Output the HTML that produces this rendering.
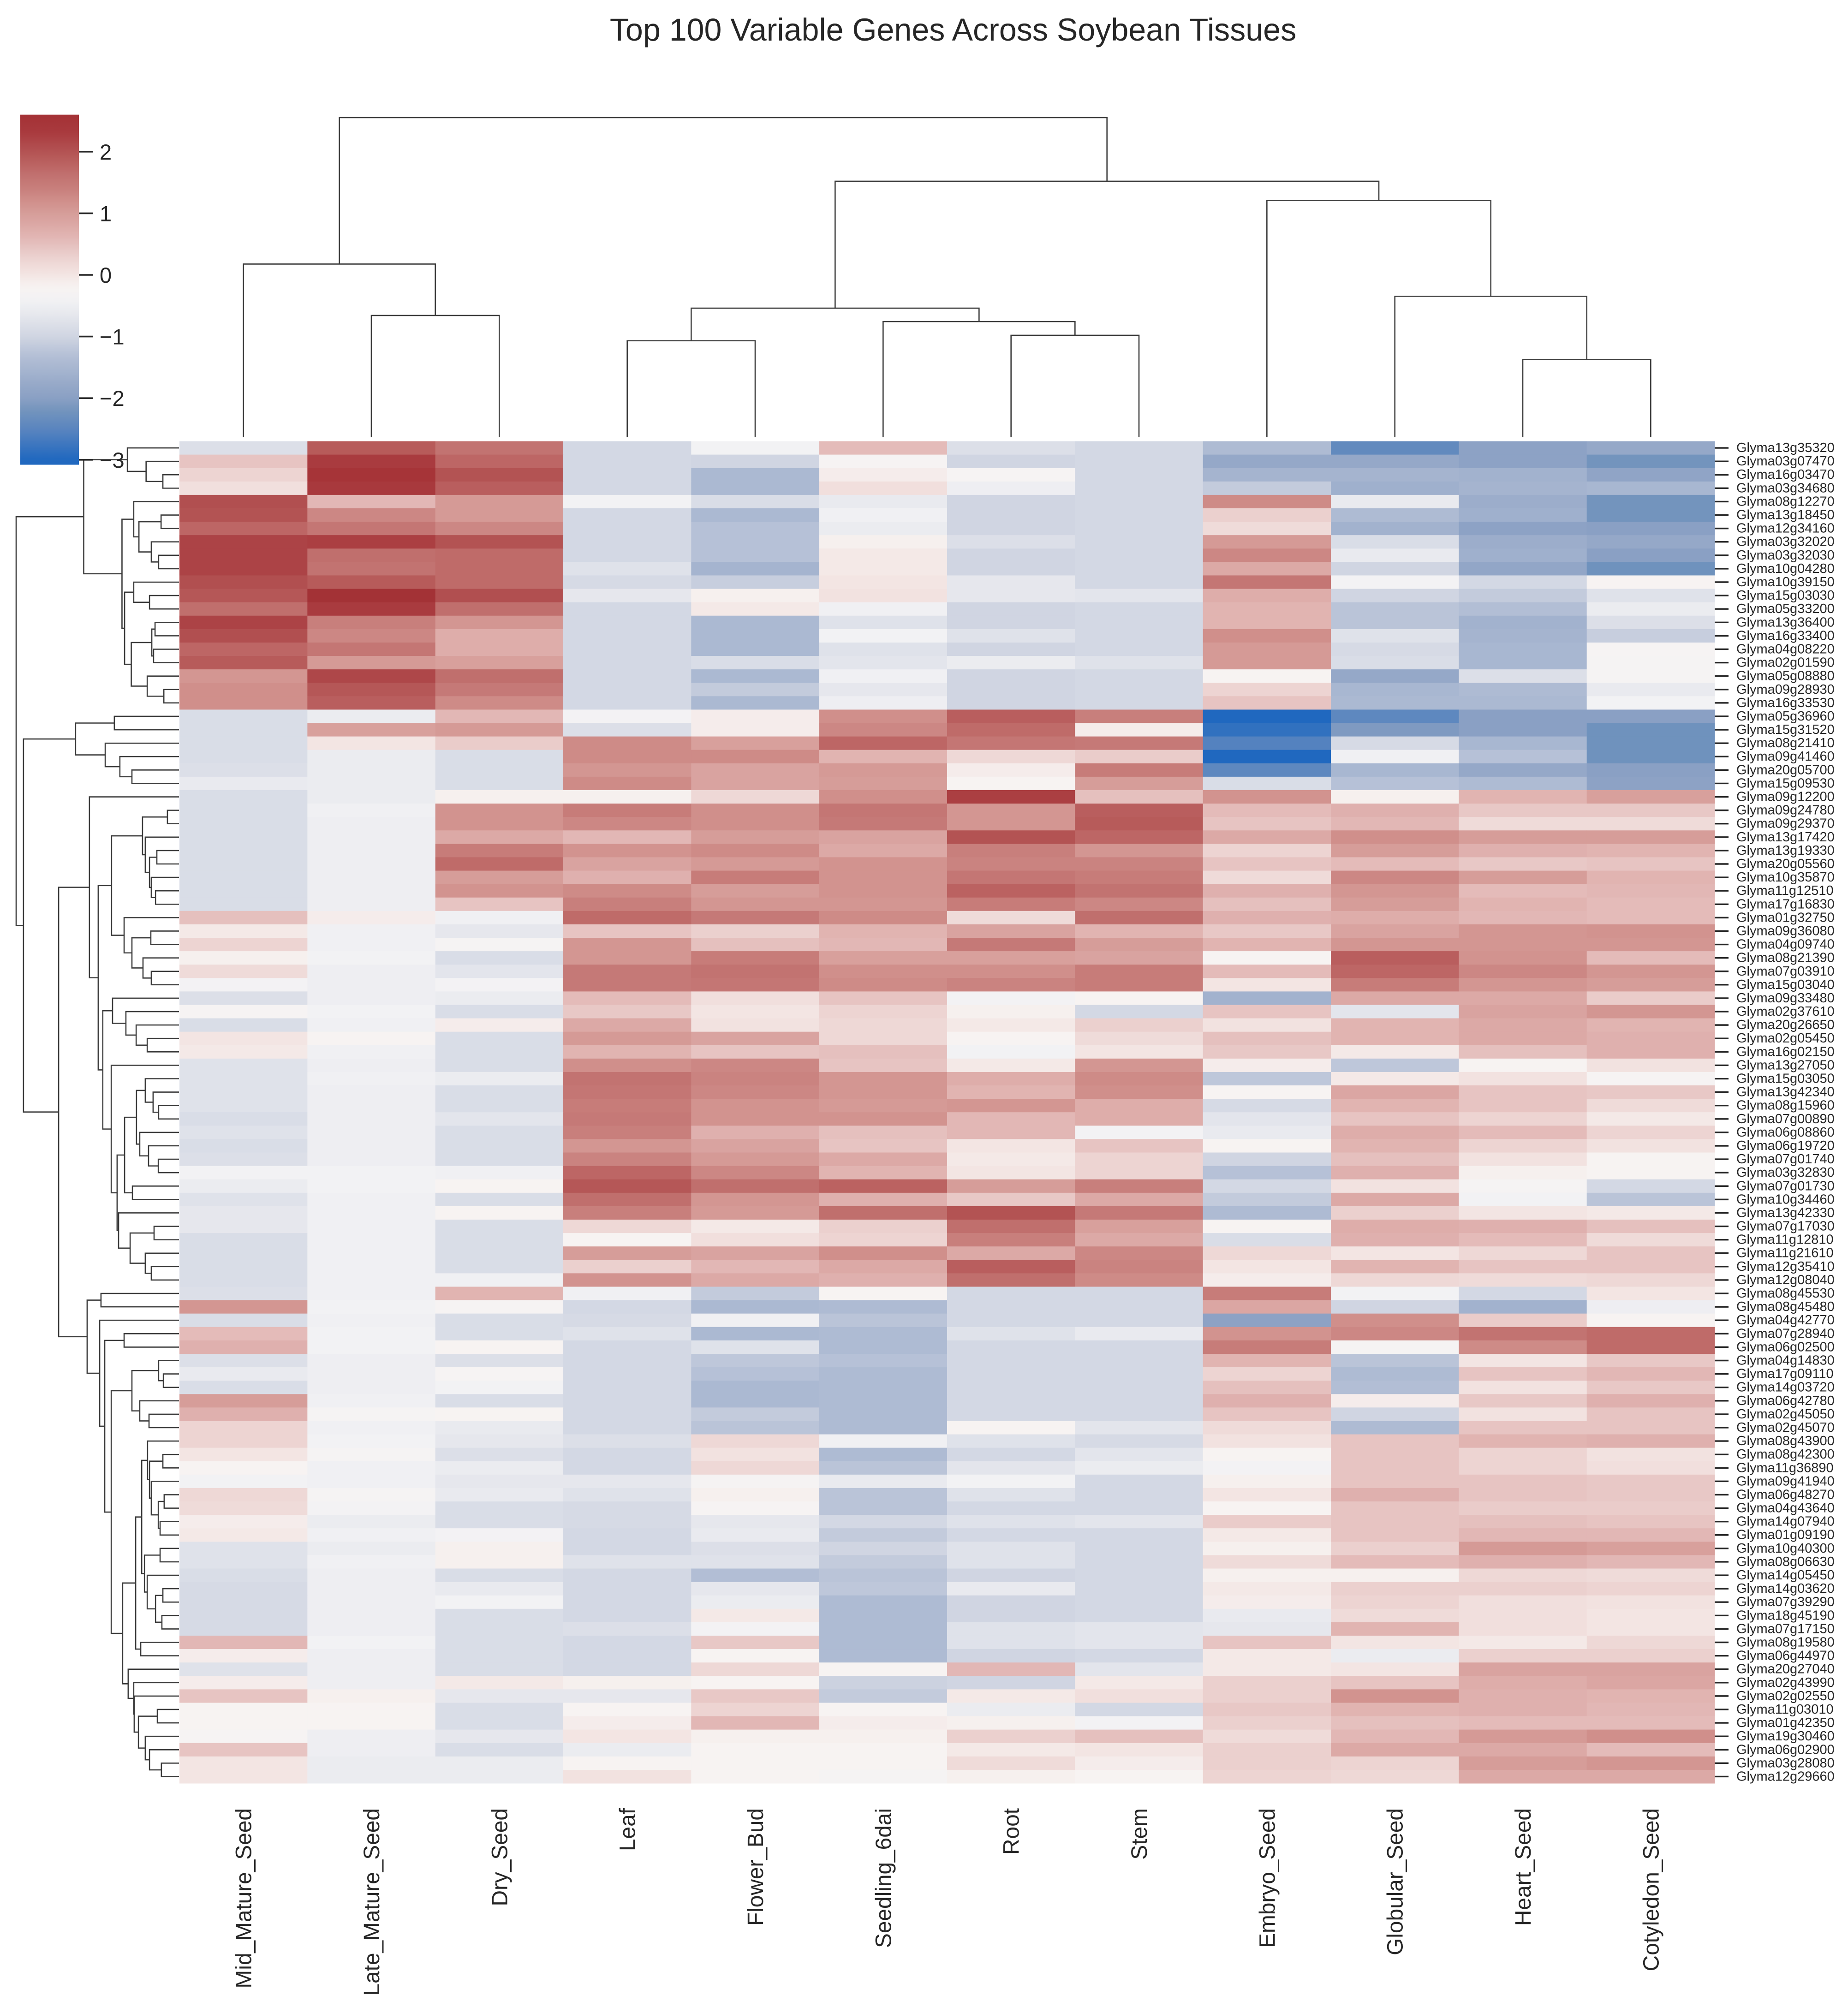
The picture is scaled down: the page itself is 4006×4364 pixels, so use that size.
<!DOCTYPE html>
<html lang="en">
<head>
<meta charset="utf-8">
<title>Top 100 Variable Genes Across Soybean Tissues</title>
<style>
html,body{margin:0;padding:0;background:#fff;width:4006px;height:4364px;overflow:hidden}
svg{display:block;font-family:"Liberation Sans",Arial,sans-serif}
</style>
</head>
<body>
<svg id="chart" xmlns="http://www.w3.org/2000/svg" width="4006" height="4364" viewBox="0 0 4006 4364">
  <rect x="0" y="0" width="4006" height="4364" fill="#ffffff"/>
  <text x="2066" y="88" font-size="68.2" text-anchor="middle" fill="#262626">Top 100 Variable Genes Across Soybean Tissues</text>
  <defs><linearGradient id="cbar-gradient" x1="0" y1="0" x2="0" y2="1"></linearGradient></defs>
  <g id="heatmap"></g>
  <g id="row-dendrogram"></g>
  <g id="col-dendrogram"></g>
  <g id="row-labels"></g>
  <g id="col-labels"></g>
  <g id="colorbar"></g>
</svg>
<script>
const tissues = ["Mid_Mature_Seed","Late_Mature_Seed","Dry_Seed","Leaf","Flower_Bud","Seedling_6dai","Root","Stem","Embryo_Seed","Globular_Seed","Heart_Seed","Cotyledon_Seed"];
const genes = ["Glyma13g35320","Glyma03g07470","Glyma16g03470","Glyma03g34680","Glyma08g12270","Glyma13g18450","Glyma12g34160","Glyma03g32020","Glyma03g32030","Glyma10g04280",
"Glyma10g39150","Glyma15g03030","Glyma05g33200","Glyma13g36400","Glyma16g33400","Glyma04g08220","Glyma02g01590","Glyma05g08880","Glyma09g28930","Glyma16g33530",
"Glyma05g36960","Glyma15g31520","Glyma08g21410","Glyma09g41460","Glyma20g05700","Glyma15g09530","Glyma09g12200","Glyma09g24780","Glyma09g29370","Glyma13g17420",
"Glyma13g19330","Glyma20g05560","Glyma10g35870","Glyma11g12510","Glyma17g16830","Glyma01g32750","Glyma09g36080","Glyma04g09740","Glyma08g21390","Glyma07g03910",
"Glyma15g03040","Glyma09g33480","Glyma02g37610","Glyma20g26650","Glyma02g05450","Glyma16g02150","Glyma13g27050","Glyma15g03050","Glyma13g42340","Glyma08g15960",
"Glyma07g00890","Glyma06g08860","Glyma06g19720","Glyma07g01740","Glyma03g32830","Glyma07g01730","Glyma10g34460","Glyma13g42330","Glyma07g17030","Glyma11g12810",
"Glyma11g21610","Glyma12g35410","Glyma12g08040","Glyma08g45530","Glyma08g45480","Glyma04g42770","Glyma07g28940","Glyma06g02500","Glyma04g14830","Glyma17g09110",
"Glyma14g03720","Glyma06g42780","Glyma02g45050","Glyma02g45070","Glyma08g43900","Glyma08g42300","Glyma11g36890","Glyma09g41940","Glyma06g48270","Glyma04g43640",
"Glyma14g07940","Glyma01g09190","Glyma10g40300","Glyma08g06630","Glyma14g05450","Glyma14g03620","Glyma07g39290","Glyma18g45190","Glyma07g17150","Glyma08g19580",
"Glyma06g44970","Glyma20g27040","Glyma02g43990","Glyma02g02550","Glyma11g03010","Glyma01g42350","Glyma19g30460","Glyma06g02900","Glyma03g28080","Glyma12g29660"];
const zscores = [
[-0.8,1.9,1.6,-0.95,-0.4,0.55,-0.8,-0.95,-1.4,-2.4,-1.95,-1.8],
[0.45,2.3,1.75,-0.95,-1.0,-0.25,-1.0,-0.95,-1.8,-1.8,-1.95,-2.2],
[0.25,2.5,2.0,-0.95,-1.45,-0.1,-0.25,-0.95,-1.55,-1.55,-1.6,-1.9],
[0.1,2.35,1.85,-0.95,-1.45,0.1,-0.5,-0.95,-1.15,-1.65,-1.55,-1.5],
[2.05,0.6,1.05,-0.4,-0.85,-0.6,-1.0,-0.95,1.25,-0.6,-1.7,-2.2],
[2.0,1.3,1.05,-0.95,-1.45,-0.45,-1.0,-0.95,0.3,-1.4,-1.65,-2.2],
[1.75,1.55,1.3,-0.95,-1.3,-0.55,-1.0,-0.95,0.15,-1.6,-1.95,-2.0],
[2.2,2.25,2.0,-0.95,-1.3,-0.15,-0.8,-0.95,1.05,-0.85,-1.7,-1.8],
[2.2,1.65,1.7,-0.95,-1.3,-0.05,-1.0,-0.95,1.3,-0.6,-1.65,-2.0],
[2.2,1.6,1.7,-0.75,-1.55,-0.05,-1.0,-0.95,0.8,-1.0,-1.85,-2.25],
[2.05,1.9,1.7,-0.9,-1.1,0.0,-0.65,-0.95,1.55,-0.35,-0.95,-0.2],
[1.95,2.6,2.05,-0.65,-0.15,0.05,-0.65,-0.7,0.75,-1.0,-1.15,-0.75],
[1.65,2.3,1.65,-0.95,-0.05,-0.45,-1.0,-0.95,0.65,-1.25,-1.35,-0.55],
[2.2,1.4,1.1,-0.95,-1.45,-0.75,-1.0,-0.95,0.65,-1.25,-1.6,-0.8],
[2.05,1.3,0.75,-0.95,-1.45,-0.4,-0.75,-0.95,1.2,-0.75,-1.55,-1.1],
[1.75,1.55,0.75,-0.95,-1.45,-0.75,-1.0,-0.95,1.05,-0.9,-1.5,-0.25],
[1.9,1.05,0.95,-0.95,-0.85,-0.7,-0.55,-0.75,1.05,-0.85,-1.5,-0.3],
[1.1,2.15,1.65,-0.95,-1.45,-0.45,-1.0,-0.95,-0.2,-1.8,-0.8,-0.3],
[1.2,1.95,1.5,-0.95,-1.15,-0.65,-1.0,-0.95,0.25,-1.5,-1.4,-0.6],
[1.2,1.85,1.25,-0.95,-1.45,-0.5,-1.0,-0.95,0.45,-1.45,-1.45,-0.4],
[-0.85,-0.55,0.6,-0.35,-0.1,1.2,1.85,1.4,-3.05,-2.45,-2.0,-2.0],
[-0.85,0.95,1.05,-0.8,-0.1,1.3,1.7,-0.1,-2.85,-2.1,-2.0,-2.25],
[-0.85,0.0,0.35,1.25,0.95,1.75,1.55,1.5,-2.55,-0.9,-1.5,-2.25],
[-0.85,-0.55,-0.85,1.25,1.25,0.65,0.2,0.35,-3.05,-0.45,-1.3,-2.25],
[-0.8,-0.55,-0.85,1.1,0.9,1.05,-0.1,1.45,-2.45,-1.5,-1.8,-2.0],
[-0.6,-0.55,-0.85,1.25,0.9,1.0,-0.2,1.0,-0.85,-1.3,-1.4,-1.95],
[-0.85,-0.55,-0.15,-0.15,0.2,1.2,2.25,0.5,1.15,-0.15,0.65,0.95],
[-0.85,-0.45,1.15,1.45,1.2,1.55,1.1,1.85,0.55,0.7,0.4,0.4],
[-0.85,-0.5,1.15,1.3,1.2,1.5,1.1,1.9,0.45,0.6,0.15,0.15],
[-0.85,-0.5,0.8,0.6,1.0,0.9,2.0,1.75,0.8,1.2,1.0,1.0],
[-0.85,-0.5,1.45,1.15,1.25,0.8,1.4,1.1,0.25,1.0,0.7,0.65],
[-0.85,-0.5,1.7,0.9,1.05,1.15,1.35,1.35,0.45,0.55,0.4,0.45],
[-0.85,-0.5,1.0,0.7,1.45,1.15,1.55,1.45,0.15,1.3,1.0,0.65],
[-0.85,-0.5,1.15,1.25,1.0,1.15,1.8,1.6,0.7,1.1,0.55,0.6],
[-0.85,-0.5,0.45,1.4,1.1,1.1,1.45,1.3,0.5,1.0,0.65,0.55],
[0.5,-0.1,-0.45,1.7,1.5,1.25,0.15,1.65,0.7,0.75,0.6,0.55],
[-0.05,-0.45,-0.65,0.45,0.3,0.65,0.9,0.65,0.4,0.9,1.1,1.15],
[0.25,-0.45,-0.3,1.1,0.5,0.6,1.5,1.0,0.65,1.1,1.1,1.1],
[-0.15,-0.4,-0.85,1.1,1.45,0.95,0.95,0.9,-0.2,1.85,1.15,0.55],
[0.15,-0.5,-0.7,1.5,1.6,1.2,1.2,1.45,0.55,1.75,1.3,1.1],
[-0.35,-0.5,-0.35,1.5,1.55,1.25,1.35,1.45,0.0,1.45,1.1,1.0],
[-0.8,-0.5,-0.55,0.55,0.1,0.45,-0.35,-0.2,-1.6,0.8,0.8,0.35],
[-0.25,-0.4,-0.85,0.4,0.0,0.25,-0.15,-0.95,0.45,-0.7,0.9,1.1],
[-0.85,-0.45,-0.1,0.8,0.05,0.2,-0.05,0.3,0.05,0.65,0.8,0.65],
[0.0,-0.2,-0.85,1.05,0.9,0.2,-0.2,0.15,0.5,0.65,0.8,0.7],
[-0.05,-0.45,-0.85,0.65,0.45,0.5,-0.4,0.0,0.4,-0.05,0.5,0.7],
[-0.75,-0.5,-0.85,1.2,1.3,0.45,-0.05,1.1,-0.1,-1.2,-0.2,0.05],
[-0.75,-0.45,-0.55,1.6,1.35,1.1,0.75,1.25,-1.2,-0.05,0.05,-0.25],
[-0.75,-0.5,-0.85,1.55,1.3,1.1,0.65,1.2,-0.2,0.85,0.45,0.4],
[-0.75,-0.5,-0.85,1.45,1.15,1.05,1.1,0.75,-0.9,0.65,0.45,0.15],
[-0.85,-0.5,-0.7,1.5,1.15,1.15,0.6,0.75,-0.7,0.45,0.25,-0.05],
[-0.75,-0.5,-0.85,1.4,0.7,0.5,0.6,-0.35,-0.6,0.75,0.55,0.25],
[-0.85,-0.5,-0.85,1.1,0.9,0.45,0.0,0.45,-0.2,0.65,0.25,0.05],
[-0.8,-0.5,-0.85,1.35,1.05,0.8,-0.05,0.25,-1.0,0.5,0.05,-0.2],
[-0.4,-0.4,-0.45,1.75,1.3,0.65,0.0,0.25,-1.3,0.7,-0.15,-0.2],
[-0.55,-0.4,-0.2,1.95,1.65,1.8,1.0,1.4,-0.95,0.05,-0.3,-0.95],
[-0.75,-0.45,-0.85,1.65,1.1,0.7,0.4,0.8,-1.15,0.8,-0.4,-1.25],
[-0.65,-0.45,-0.2,1.4,1.05,1.65,2.0,1.5,-1.4,0.3,0.0,-0.05],
[-0.65,-0.45,-0.85,0.2,-0.05,0.3,1.65,0.95,-0.2,0.75,0.7,0.5],
[-0.85,-0.45,-0.85,-0.2,0.1,0.25,1.4,0.8,-0.85,0.7,0.55,0.15],
[-0.85,-0.45,-0.85,1.0,0.9,1.2,0.8,1.3,0.2,0.0,0.2,0.45],
[-0.85,-0.45,-0.85,0.3,0.6,0.8,1.85,1.35,0.0,0.65,0.45,0.45],
[-0.85,-0.45,-0.45,1.15,0.8,0.7,1.65,1.25,-0.1,0.2,0.15,0.2],
[-0.8,-0.45,0.65,-0.45,-1.15,-0.2,-0.95,-0.95,1.45,-0.4,-0.95,0.0],
[1.1,-0.4,-0.25,-0.95,-1.45,-1.4,-0.95,-0.95,0.85,-1.0,-1.6,-0.5],
[-0.85,-0.45,-0.85,-0.9,-0.45,-1.25,-0.95,-0.95,-1.95,1.2,0.35,-0.2],
[0.55,-0.4,-0.85,-0.75,-1.45,-1.4,-0.75,-0.6,1.15,1.3,1.6,1.7],
[0.7,-0.4,-0.2,-0.95,-0.75,-1.4,-0.95,-0.95,1.45,-0.3,1.25,1.7],
[-0.8,-0.5,-0.8,-0.95,-1.2,-1.3,-0.95,-0.95,0.65,-1.25,0.0,0.4],
[-0.6,-0.5,-0.25,-0.95,-1.3,-1.4,-0.95,-0.95,0.25,-1.4,0.45,0.6],
[-0.85,-0.5,-0.4,-0.95,-1.45,-1.4,-0.95,-0.95,0.5,-1.35,0.05,0.4],
[1.0,-0.45,-0.85,-0.95,-1.45,-1.4,-0.95,-0.95,0.7,-0.1,0.4,0.7],
[0.7,-0.3,-0.2,-0.95,-1.15,-1.4,-0.95,-0.95,0.45,-1.0,0.05,0.45],
[0.25,-0.45,-0.6,-0.95,-1.25,-1.4,-0.2,-0.7,0.15,-1.4,0.45,0.45],
[0.25,-0.4,-0.65,-0.8,0.2,-0.45,-0.75,-0.9,0.05,0.45,0.65,0.7],
[0.0,-0.3,-0.8,-0.95,0.05,-1.4,-0.95,-0.7,-0.2,0.45,0.25,0.05],
[-0.2,-0.45,-0.55,-0.95,0.2,-1.25,-0.7,-0.55,-0.35,0.45,0.25,0.1],
[-0.4,-0.45,-0.65,-0.65,-0.3,-0.6,-0.4,-0.95,-0.15,0.45,0.45,0.4],
[0.2,-0.3,-0.6,-0.75,-0.15,-1.25,-0.75,-0.95,0.0,0.7,0.45,0.4],
[0.15,-0.35,-0.85,-0.9,-0.25,-1.25,-0.95,-0.95,-0.2,0.45,0.35,0.35],
[-0.1,-0.55,-0.85,-0.9,-0.65,-0.95,-0.75,-0.7,0.35,0.45,0.5,0.45],
[-0.05,-0.45,-0.35,-0.95,-0.6,-1.15,-0.95,-0.95,-0.05,0.45,0.6,0.6],
[-0.75,-0.55,-0.15,-0.95,-0.8,-1.0,-0.75,-0.95,-0.15,0.3,1.05,0.95],
[-0.75,-0.45,-0.15,-0.75,-0.75,-1.15,-0.75,-0.95,0.15,0.55,0.7,0.6],
[-0.85,-0.5,-0.85,-0.95,-1.35,-1.25,-1.0,-0.95,-0.15,-0.15,0.2,0.15],
[-0.9,-0.5,-0.6,-0.95,-0.65,-1.2,-0.6,-0.95,-0.05,0.3,0.3,0.25],
[-0.9,-0.5,-0.4,-0.95,-0.55,-1.4,-1.0,-0.95,-0.1,0.25,0.1,0.05],
[-0.9,-0.5,-0.85,-0.95,-0.05,-1.4,-1.0,-0.95,-0.6,0.15,0.1,0.0],
[-0.9,-0.5,-0.85,-0.8,-0.35,-1.4,-0.75,-0.7,-0.65,0.65,0.1,0.0],
[0.6,-0.4,-0.85,-0.95,0.4,-1.4,-0.75,-0.7,0.45,0.0,-0.05,0.2],
[-0.1,-0.5,-0.85,-0.95,-0.2,-1.4,-1.0,-0.95,-0.05,-0.55,0.3,0.3],
[-0.75,-0.5,-0.85,-0.95,0.2,-0.2,0.6,-0.7,-0.05,0.0,0.9,0.9],
[-0.1,-0.5,-0.05,-0.15,-0.2,-1.05,-1.0,-0.05,0.3,0.45,0.75,0.85],
[0.45,-0.15,-0.65,-0.65,0.4,-1.15,-0.05,0.1,0.3,1.15,0.7,0.65],
[-0.2,-0.2,-0.85,-0.2,0.25,-0.2,-0.55,-0.95,0.4,0.65,0.7,0.6],
[-0.2,-0.2,-0.85,-0.1,0.6,-0.1,-0.15,-0.35,0.3,0.5,0.55,0.55],
[-0.25,-0.5,-0.65,0.0,-0.15,-0.15,0.3,0.5,0.15,0.6,1.05,1.2],
[0.45,-0.5,-0.85,-0.55,-0.2,-0.2,-0.05,0.0,0.3,0.8,0.8,0.55],
[0.0,-0.55,-0.55,-0.2,-0.2,-0.2,0.15,-0.1,0.3,0.25,1.0,1.1],
[0.0,-0.55,-0.55,0.05,-0.2,-0.3,-0.15,-0.2,0.25,0.2,0.8,0.8]
];
const rowTree = [100,
  [58.5,
    [31.7,0,[20.2,1,[9.9,2,3]]],
    [35.0,
      [27.8,4,[24.6,[11.0,5,6],[17.0,7,[12.5,8,9]]]],
      [33.4,
        [27.8,10,[18.1,11,12]],
        [29.3,[16.7,[14.7,13,14],[15.6,15,16]],[19.5,17,[9.3,18,19]]]
      ]
    ]
  ],
  [95.5,
    [63.5,[39.7,20,21],[45.3,22,[36.3,23,[28.9,24,25]]]],
    [73.9,
      [55.0,26,
        [49.6,
          [41.4,
            [22.4,[7.1,27,28],[20.7,29,[18.1,[13.6,30,31],[17.0,32,[14.4,33,34]]]]],
            [33.7,35,[28.9,[17.3,36,37],[22.1,38,[17.0,39,40]]]]
          ],
          [46.8,
            [40.8,41,[32.6,42,[26.3,43,[19.5,44,45]]]],
            [41.6,46,
              [38.0,
                [33.4,
                  [26.1,[20.7,47,[15.9,48,[12.5,49,50]]],[24.1,51,[18.7,52,[12.7,53,54]]]],
                  [28.6,55,56]
                ],
                [37.1,57,[30.0,[15.3,58,59],[20.7,60,[17.0,61,62]]]]
              ]
            ]
          ]
        ]
      ],
      [56.4,
        [47.9,63,64],
        [48.7,65,
          [45.6,
            [33.7,66,67],
            [41.6,
              [28.9,[12.5,68,[9.6,69,70]],[24.1,71,[18.4,72,73]]],
              [34.6,
                [26.6,
                  [22.9,
                    [19.3,74,[18.1,[9.9,75,76],[17.0,77,[12.7,[9.1,78,79],[11.6,80,81]]]]],
                    [21.2,[11.6,82,83],[19.5,84,[14.4,[9.9,85,86],[10.5,87,88]]]]
                  ],
                  [23.5,89,90]
                ],
                [31.2,91,[27.8,92,[27.5,93,[24.9,[13.3,94,95],[20.7,96,[18.1,97,[10.8,98,99]]]]]]]
              ]
            ]
          ]
        ]
      ]
    ]
  ]
];
const colTree = [100,[54.2,0,[38.1,1,2]],[80.1,[40.4,[30.2,3,4],[36.2,5,[31.9,6,7]]],[74.1,8,[44.1,9,[24.3,10,11]]]]];
const cbarTicks = [2,1,0,-1,-2,-3];
const cbarMin = -3.08;
const cbarMax = 2.6;
const colorStopValues = [2.6,2.5,2.3,2.0,1.8,1.6,1.4,1.2,1.0,0.8,0.6,0.4,0.2,0.0,-0.2,-0.4,-0.6,-0.8,-1.0,-1.2,-1.4,-1.6,-1.8,-2.0,-2.2,-2.5,-3.0,-3.08];
const colorStopColors = ["#a33236","#a63438","#a93b3f","#b35353","#bb6261","#c27371","#c87f7c","#d08f8b","#d69d99","#dca9a6","#e2b7b5","#e8c8c6","#eed8d6","#f3e5e3","#f7f3f2","#f2f2f4","#e9eaef","#dcdfe8","#d0d5e2","#bec7da","#aebbd3","#a2b2ce","#95a8c8","#8aa0c4","#7394bd","#5a85bf","#2068bf","#2068bf"];

const NS = "http://www.w3.org/2000/svg";
const HM = {left:389, right:3717, top:956.5, bottom:3866};
const cellW = (HM.right - HM.left) / tissues.length;
const cellH = (HM.bottom - HM.top) / genes.length;
const xCol = i => HM.left + i * cellW;
const yRow = i => HM.top + i * cellH;
const xDendro = d => 388 - d * 3.53;
const yDendro = h => 948 - h * 6.93;
const yCbar = v => 596 - v * 133.6;

function hexToRgb(h){return [1,3,5].map(i => parseInt(h.substr(i,2),16));}
function colorFor(v){
  if (v >= colorStopValues[0]) return colorStopColors[0];
  for (let i = 1; i < colorStopValues.length; i++) {
    if (v >= colorStopValues[i]) {
      const a = hexToRgb(colorStopColors[i-1]), b = hexToRgb(colorStopColors[i]);
      const t = (v - colorStopValues[i]) / (colorStopValues[i-1] - colorStopValues[i]);
      return "rgb(" + a.map((c,k) => Math.round(b[k] + (c - b[k]) * t)).join(",") + ")";
    }
  }
  return colorStopColors[colorStopColors.length-1];
}
function make(tag, attrs, parent){
  const el = document.createElementNS(NS, tag);
  for (const k in attrs) el.setAttribute(k, attrs[k]);
  parent.appendChild(el);
  return el;
}

const heatmap = document.getElementById("heatmap");
zscores.forEach((row, r) => {
  row.forEach((v, c) => {
    const el = make("rect", {x:xCol(c), y:yRow(r), width:cellW+0.5, height:cellH+0.5, fill:colorFor(v)}, heatmap);
    
    
  });
});

function drawRowTree(node, parent){
  if (typeof node === "number") return {pos: yRow(node) + cellH/2, d: 0};
  const a = drawRowTree(node[1], parent), b = drawRowTree(node[2], parent);
  const x = xDendro(node[0]);
  const el = make("path", {d:"M"+xDendro(a.d)+" "+a.pos+"H"+x+"V"+b.pos+"H"+xDendro(b.d), fill:"none", stroke:"#3a3a3a", "stroke-width":2.6}, parent);
  
  
  return {pos:(a.pos+b.pos)/2, d:node[0]};
}
drawRowTree(rowTree, document.getElementById("row-dendrogram"));

function drawColTree(node, parent){
  if (typeof node === "number") return {pos: xCol(node) + cellW/2, h: 0};
  const a = drawColTree(node[1], parent), b = drawColTree(node[2], parent);
  const y = yDendro(node[0]);
  const el = make("path", {d:"M"+a.pos+" "+yDendro(a.h)+"V"+y+"H"+b.pos+"V"+yDendro(b.h), fill:"none", stroke:"#3a3a3a", "stroke-width":2.6}, parent);
  
  
  return {pos:(a.pos+b.pos)/2, h:node[0]};
}
drawColTree(colTree, document.getElementById("col-dendrogram"));

const rowLabels = document.getElementById("row-labels");
genes.forEach((g, r) => {
  const cy = yRow(r) + cellH/2;
  const tick = make("line", {x1:HM.right, x2:HM.right+30, y1:cy, y2:cy, stroke:"#262626", "stroke-width":3.4}, rowLabels);
  
  
  const t = make("text", {x:3764, y:cy+9, "font-size":29, fill:"#262626"}, rowLabels);
  
  
  t.textContent = g;
});

const colLabels = document.getElementById("col-labels");
tissues.forEach((name, c) => {
  const x = xCol(c) + cellW/2 + 17, y = 3920;
  const t = make("text", {x:x, y:y, "font-size":47.8, fill:"#262626", "text-anchor":"end", transform:"rotate(-90 "+x+" "+y+")"}, colLabels);
  
  
  t.textContent = name;
});

const grad = document.getElementById("cbar-gradient");
for (let i = 0; i <= 60; i++) {
  const v = cbarMax + (cbarMin - cbarMax) * i / 60;
  make("stop", {offset:(i/60), "stop-color":colorFor(v)}, grad);
}
const colorbar = document.getElementById("colorbar");
const cbarRect = make("rect", {x:44, y:yCbar(cbarMax), width:127, height:yCbar(cbarMin)-yCbar(cbarMax), fill:"url(#cbar-gradient)"}, colorbar);


cbarTicks.forEach(v => {
  const y = yCbar(v);
  const tick = make("line", {x1:171, x2:201, y1:y, y2:y, stroke:"#262626", "stroke-width":3.6}, colorbar);
  
  
  const t = make("text", {x:216, y:y+17, "font-size":47, fill:"#262626"}, colorbar);
  
  
  t.textContent = String(v).replace("-", "\u2212");
});
</script>
</body>
</html>
